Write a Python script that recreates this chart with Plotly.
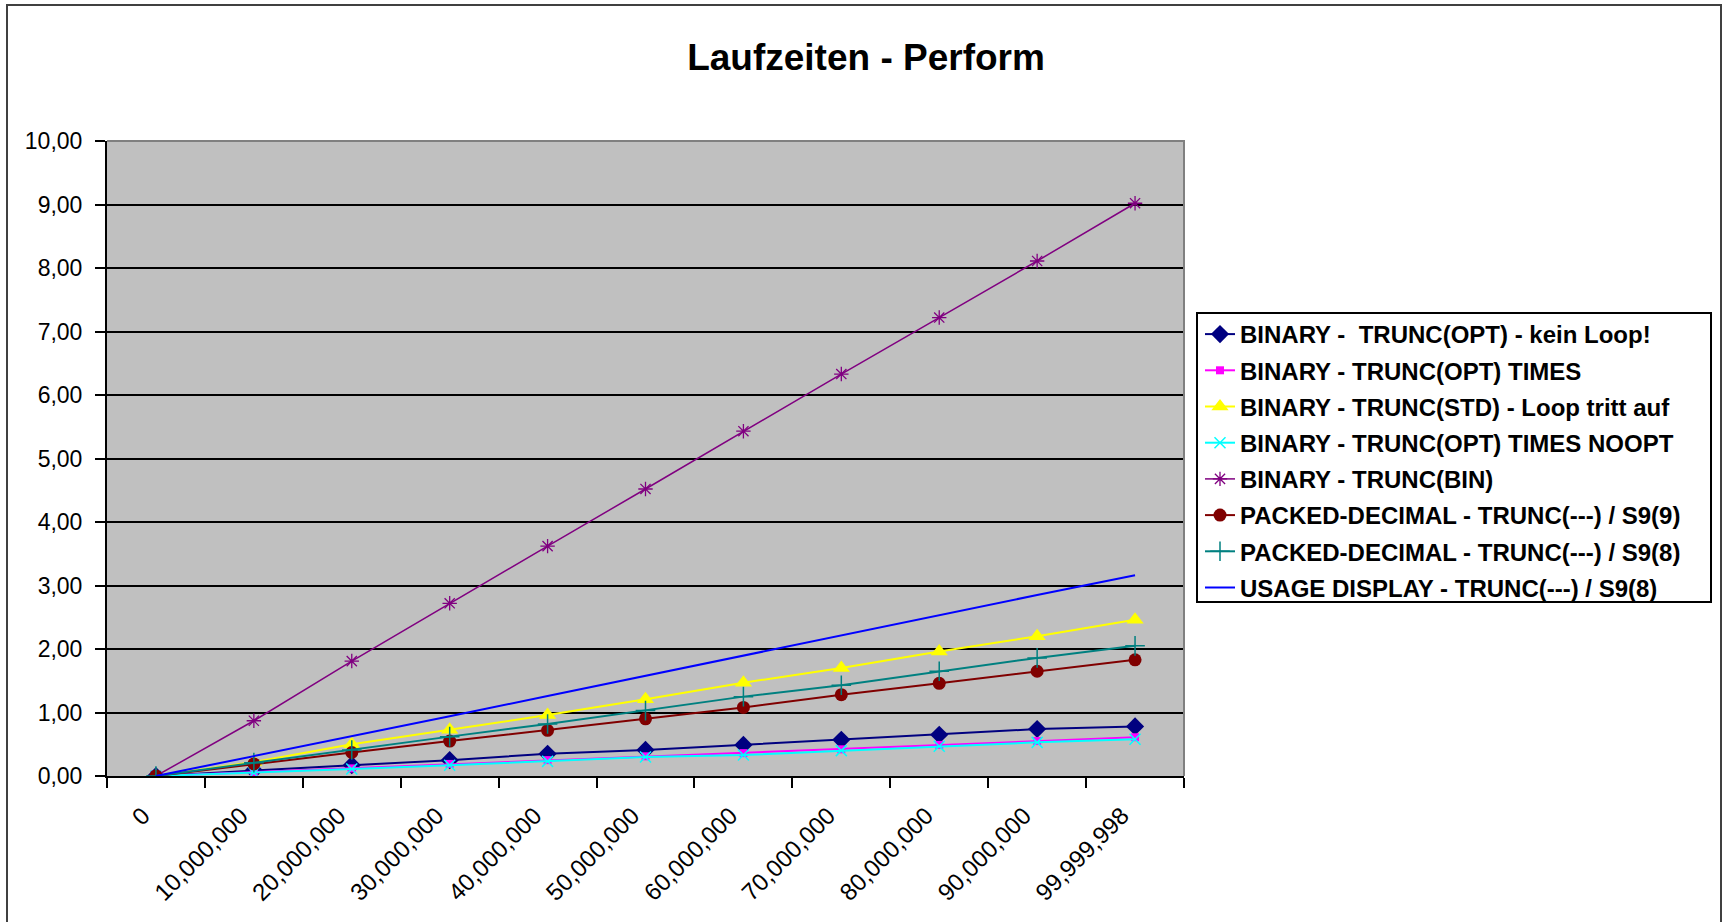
import plotly.graph_objects as go

# Loop sizes (category axis) and measured run times in seconds
categories = ["0", "10,000,000", "20,000,000", "30,000,000", "40,000,000",
              "50,000,000", "60,000,000", "70,000,000", "80,000,000",
              "90,000,000", "99,999,998"]

binary_opt_kein_loop = [0, 0.09, 0.17, 0.25, 0.35, 0.41, 0.49, 0.57, 0.65, 0.74, 0.78]
binary_opt_times = [0, 0.06, 0.12, 0.19, 0.25, 0.31, 0.36, 0.42, 0.49, 0.55, 0.61]
binary_std_loop = [0, 0.22, 0.50, 0.73, 0.96, 1.21, 1.47, 1.70, 1.96, 2.20, 2.46]
binary_opt_times_noopt = [0, 0.05, 0.11, 0.17, 0.23, 0.30, 0.33, 0.40, 0.47, 0.53, 0.58]
binary_bin = [0, 0.87, 1.81, 2.72, 3.62, 4.52, 5.43, 6.33, 7.22, 8.11, 9.02]
packed_s9_9 = [0, 0.19, 0.37, 0.55, 0.72, 0.90, 1.08, 1.28, 1.46, 1.65, 1.83]
packed_s9_8 = [0, 0.21, 0.41, 0.62, 0.82, 1.03, 1.25, 1.43, 1.65, 1.86, 2.05]
display_s9_8 = [0, 0.31, 0.62, 0.94, 1.26, 1.58, 1.90, 2.21, 2.53, 2.85, 3.16]

series_names = [
    "BINARY -  TRUNC(OPT) - kein Loop!",
    "BINARY - TRUNC(OPT) TIMES",
    "BINARY - TRUNC(STD) - Loop tritt auf",
    "BINARY - TRUNC(OPT) TIMES NOOPT",
    "BINARY - TRUNC(BIN)",
    "PACKED-DECIMAL - TRUNC(---) / S9(9)",
    "PACKED-DECIMAL - TRUNC(---) / S9(8)",
    "USAGE DISPLAY - TRUNC(---) / S9(8)",
]
series_values = [binary_opt_kein_loop, binary_opt_times, binary_std_loop,
                 binary_opt_times_noopt, binary_bin, packed_s9_9, packed_s9_8,
                 display_s9_8]

# (color, line width, marker symbol, marker size, open-symbol line width)
styles = [
    ("#000080", 2.0, "diamond", 14, 0),
    ("#FF00FF", 2.0, "square", 8, 0),
    ("#FFFF00", 2.0, "triangle-up", 15, 0),
    ("#00FFFF", 2.0, "x-thin-open", 11, 1.5),
    ("#800080", 1.5, "asterisk-open", 12, 1.3),
    ("#800000", 2.0, "circle", 13, 0),
    ("#008080", 2.0, "cross-thin-open", 14, 1.5),
    ("#0000FF", 2.0, None, 0, 0),
]

FONT = "Liberation Sans, Arial, sans-serif"

fig = go.Figure()
for i, (name, vals, st) in enumerate(zip(series_names, series_values, styles)):
    color, lw, sym, msize, mlw = st
    if sym is None:
        mode = "lines"
        marker = None
    else:
        mode = "lines+markers"
        marker = dict(symbol=sym, size=msize, color=color,
                      line=dict(width=mlw, color=color))
    fig.add_trace(go.Scatter(
        x=categories, y=vals, name=f"<b>{name}</b>", mode=mode,
        line=dict(color=color, width=lw),
        marker=marker, legendgroup=f"g{i}",
    ))

# plot area pixel geometry
L, R, T, B = 107, 1184, 141, 776
W, H = 1724, 922
pw, ph = R - L, B - T

def px(x):
    return (x - L) / pw

def py(y):
    return (B - y) / ph

shapes = [
    # grey frame on top and right of the plot area
    dict(type="path", xref="paper", yref="paper",
         path="M 0,1 L 1,1 L 1,0", line=dict(color="#808080", width=2),
         layer="above"),
    # outer chart border
    dict(type="rect", xref="paper", yref="paper",
         x0=px(7), x1=px(1721), y0=py(935), y1=py(5),
         line=dict(color="#404040", width=2), fillcolor="rgba(0,0,0,0)",
         layer="below"),
    # legend box
    dict(type="rect", xref="paper", yref="paper",
         x0=px(1197), x1=px(1711), y0=py(602), y1=py(313),
         line=dict(color="#000000", width=2), fillcolor="#FFFFFF",
         layer="below"),
]

fig.update_layout(
    width=W, height=H,
    margin=dict(l=L, r=W - R, t=T, b=H - B, pad=0),
    paper_bgcolor="#FFFFFF",
    plot_bgcolor="#C0C0C0",
    separators=",.",
    font=dict(family=FONT, size=23, color="#000000"),
    title=dict(text="<b>Laufzeiten - Perform</b>",
               font=dict(family=FONT, size=37, color="#000000"),
               x=866 / W, xref="container", xanchor="center",
               y=1 - 57 / H, yref="container", yanchor="middle"),
    xaxis=dict(
        type="category", categoryorder="array", categoryarray=categories,
        range=[-0.5, 10.5], showgrid=False, zeroline=False,
        ticks="outside", tickson="boundaries", ticklen=10, tickwidth=2,
        tickcolor="#000000", showline=True, linecolor="#000000", linewidth=2,
        tickangle=-45, tickfont=dict(family=FONT, size=24),
        ticklabelstandoff=14, ticklabelshift=-13,
    ),
    yaxis=dict(
        range=[0, 10], tick0=0, dtick=1, tickformat=".2f",
        showgrid=True, gridcolor="#000000", gridwidth=1.6, zeroline=False,
        ticks="outside", ticklen=10, tickwidth=2, tickcolor="#000000",
        showline=True, linecolor="#000000", linewidth=2,
        tickfont=dict(family=FONT, size=23), ticklabelstandoff=8,
    ),
    legend=dict(
        x=px(1200), y=py(312), xanchor="left", yanchor="top",
        bgcolor="rgba(0,0,0,0)", borderwidth=0,
        font=dict(family=FONT, size=24, color="#000000"),
        tracegroupgap=2, itemwidth=30,
    ),
    shapes=shapes,
    showlegend=True,
)

fig.write_html("out.html", config={"displayModeBar": False})
